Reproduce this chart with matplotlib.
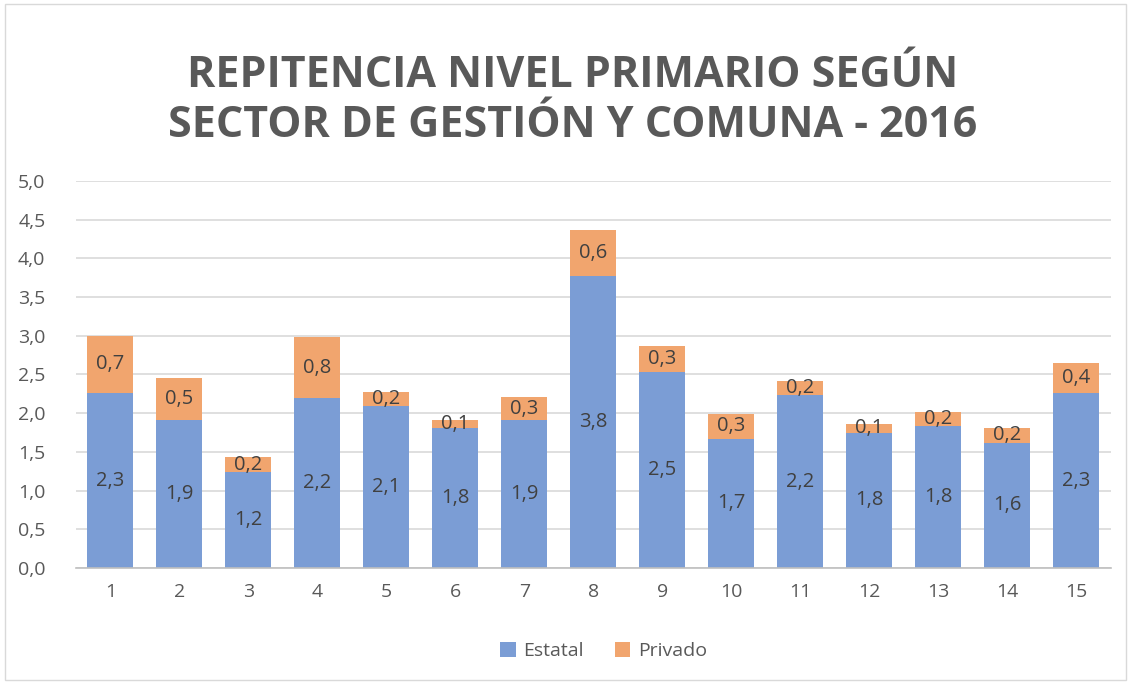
import matplotlib.pyplot as plt
from matplotlib.patches import Rectangle
import numpy as np

# data
comunas = [str(i) for i in range(1, 16)]
estatal = [2.26, 1.91, 1.24, 2.20, 2.09, 1.81, 1.91, 3.77, 2.53, 1.67, 2.23, 1.75, 1.83, 1.62, 2.26]
privado = [0.74, 0.54, 0.19, 0.78, 0.19, 0.10, 0.30, 0.60, 0.34, 0.32, 0.19, 0.11, 0.19, 0.19, 0.39]
series_names = ['Estatal', 'Privado']
title = 'REPITENCIA NIVEL PRIMARIO SEGÚN\nSECTOR DE GESTIÓN Y COMUNA - 2016'

blue = '#7B9DD5'
orange = '#F1A56E'
text_gray = '#595959'
label_gray = '#404040'

plt.rcParams['font.family'] = ['Open Sans', 'DejaVu Sans']

fig = plt.figure(figsize=(11.31, 6.83), dpi=100)
ax = fig.add_axes([0.0672, 0.1684, 0.9148, 0.5666])

x = np.arange(len(comunas))
ax.bar(x, estatal, width=0.667, color=blue, label=series_names[0], zorder=2)
ax.bar(x, privado, width=0.667, bottom=estatal, color=orange, label=series_names[1], zorder=2)

# data labels, centred in each segment
for i in range(len(comunas)):
    ax.text(x[i], estatal[i] / 2, f'{estatal[i]:.1f}'.replace('.', ','),
            ha='center', va='center', fontsize=14.5, color=label_gray, zorder=3)
    ax.text(x[i], estatal[i] + privado[i] / 2, f'{privado[i]:.1f}'.replace('.', ','),
            ha='center', va='center', fontsize=14.5, color=label_gray, zorder=3)

ax.set_xlim(-0.5, len(comunas) - 0.5)
ax.set_ylim(0, 5)
yt = np.arange(0, 5.01, 0.5)
ax.set_yticks(yt)
ax.set_yticklabels([f'{v:.1f}'.replace('.', ',') for v in yt])
ax.set_xticks(x)
ax.set_xticklabels(comunas)
ax.tick_params(axis='both', length=0, labelsize=14, labelcolor=text_gray)
ax.tick_params(axis='y', pad=22)
ax.tick_params(axis='x', pad=11)

ax.grid(axis='y', color='#D9D9D9', linewidth=1.2, zorder=0)
for side in ['top', 'right', 'left']:
    ax.spines[side].set_visible(False)
ax.spines['bottom'].set_color('#BFBFBF')
ax.spines['bottom'].set_linewidth(1.2)
ax.spines['bottom'].set_zorder(3)

fig.text(0.506, 0.853, title, ha='center', va='center', fontsize=31,
         fontweight='bold', color=text_gray, linespacing=1.2)

ax.legend(loc='center', bbox_to_anchor=(0.51, -0.215), ncol=2, frameon=False,
          fontsize=14, labelcolor=text_gray, handlelength=0.8, handleheight=0.8,
          handletextpad=0.4, columnspacing=1.6)

# light chart border
fig.patches.append(Rectangle((0.004, 0.004), 0.992, 0.99, transform=fig.transFigure,
                             fill=False, edgecolor='#D9D9D9', linewidth=1))

fig.savefig('out.png', dpi=100)
